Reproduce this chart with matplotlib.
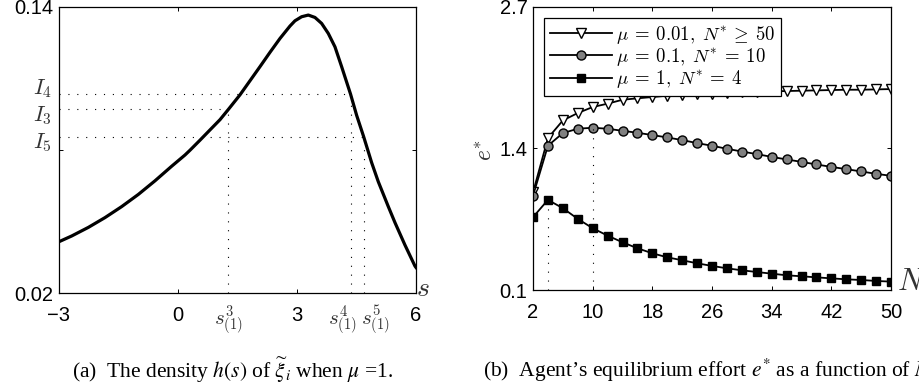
import matplotlib
matplotlib.use("Agg")
import matplotlib.pyplot as plt

plt.rcParams['font.family'] = ['Liberation Sans', 'DejaVu Sans']
plt.rcParams['mathtext.fontset'] = 'cm'

# ---------------- data: panel (a) ----------------
s_vals = [-3.0, -2.68, -2.26, -1.84, -1.42, -1.00, -0.58, -0.16, 0.176, 0.302,
          0.554, 0.806, 1.059, 1.27, 1.563, 1.815, 2.067, 2.319, 2.571, 2.823,
          2.949, 3.117, 3.285, 3.453, 3.621, 3.789, 3.957, 4.125, 4.35, 4.504,
          4.68, 4.882, 5.05, 5.302, 5.47, 5.722, 5.974, 6.0]
h_vals = [0.0416, 0.0440, 0.0476, 0.0517, 0.0563, 0.0614, 0.0671, 0.0732, 0.0779,
          0.0799, 0.0841, 0.0884, 0.0927, 0.0970, 0.1031, 0.1090, 0.1149, 0.1209,
          0.1267, 0.1319, 0.1341, 0.1358, 0.1365, 0.1355, 0.1330, 0.1288, 0.1232,
          0.1149, 0.1034, 0.0945, 0.0856, 0.0747, 0.0667, 0.0563, 0.0496, 0.0402,
          0.0314, 0.0308]
s_marks = [1.27, 4.35, 4.68]
s_mark_labels = [r'$s^3_{(1)}$', r'$s^4_{(1)}$', r'$s^5_{(1)}$']
I_levels = [0.0970, 0.1034, 0.0856]
I_labels = [r'$I_3$', r'$I_4$', r'$I_5$']
xticks_a = [-3, 0, 3, 6]
xticklabels_a = ['\u22123', '0', '3', '6']
yticks_a = [0.02, 0.08, 0.14]
yticklabels_a = ['0.02', '', '0.14']

# ---------------- data: panel (b) ----------------
N_vals = list(range(2, 51, 2))
e_mu001 = [0.995, 1.494, 1.656, 1.724, 1.779, 1.810, 1.846, 1.859, 1.871, 1.883,
           1.892, 1.895, 1.901, 1.908, 1.914, 1.917, 1.923, 1.926, 1.929, 1.932,
           1.935, 1.938, 1.938, 1.941, 1.944]
e_mu01 = [0.964, 1.424, 1.540, 1.580, 1.589, 1.580, 1.561, 1.543, 1.522, 1.500,
          1.476, 1.448, 1.424, 1.396, 1.371, 1.347, 1.322, 1.298, 1.276, 1.252,
          1.230, 1.209, 1.188, 1.166, 1.148]
e_mu1 = [0.768, 0.927, 0.851, 0.753, 0.667, 0.599, 0.538, 0.483, 0.437, 0.400,
         0.373, 0.345, 0.321, 0.299, 0.281, 0.265, 0.250, 0.235, 0.226, 0.216,
         0.207, 0.198, 0.192, 0.183, 0.177]
labels_b = [r'$\mu\:=\:0.01,\;N^{*}\:\geq\:50$', r'$\mu\:=\:0.1,\;N^{*}\:=\:10$',
            r'$\mu\:=\:1,\;N^{*}\:=\:4$']
N_opt = [4, 10]
xticks_b = [2, 10, 18, 26, 34, 42, 50]
yticks_b = [0.1, 1.4, 2.7]
yticklabels_b = ['0.1', '1.4', '2.7']

W, H = 919, 391
fig = plt.figure(figsize=(W / 100, H / 100), dpi=100)

dot_style = dict(color='black', lw=0.8, linestyle=(0, (1, 7)))

def style_axes(ax):
    for sp in ax.spines.values():
        sp.set_linewidth(0.9)
    ax.tick_params(direction='in', length=3, width=0.7, top=True, right=True,
                   labelsize=14.5)
    ax.tick_params(axis='x', pad=9)
    ax.tick_params(axis='y', pad=4)

# ---------- panel (a) ----------
axa = fig.add_axes([59 / W, (H - 293.3) / H, 357 / W, 286.6 / H])
axa.plot(s_vals, h_vals, color='black', lw=2.3, solid_joinstyle='round')
for sm, lev in zip(s_marks, I_levels):
    axa.plot([sm, sm], [0.02, lev], **dot_style)
    axa.plot([-3, sm], [lev, lev], **dot_style)
axa.set_xlim(-3, 6)
axa.set_ylim(0.02, 0.14)
axa.set_xticks(xticks_a)
axa.set_xticklabels(xticklabels_a)
axa.set_yticks(yticks_a)
axa.set_yticklabels(yticklabels_a)
style_axes(axa)
tr_a = axa.get_xaxis_transform()
lab_style = dict(fontsize=15, color='#333333', va='top')
axa.text(s_marks[0], -0.035, s_mark_labels[0], transform=tr_a, ha='center', **lab_style)
axa.text(s_marks[1] + 0.15, -0.035, s_mark_labels[1], transform=tr_a, ha='right', **lab_style)
axa.text(s_marks[2] - 0.06, -0.035, s_mark_labels[2], transform=tr_a, ha='left', **lab_style)
I_label_rows = {r'$I_4$': 88.5, r'$I_3$': 115.5, r'$I_5$': 142.5}
for lab in I_labels:
    fig.text(52 / W, 1 - I_label_rows[lab] / H, lab, ha='right', va='center',
             fontsize=16, color='#333333')
fig.text(423 / W, 1 - 289 / H, r'$s$', ha='center', va='center', fontsize=20,
         color='#333333')

# ---------- panel (b) ----------
axb = fig.add_axes([533 / W, (H - 290) / H, 358 / W, 283.3 / H])
mk = dict(color='black', lw=1.3, markeredgewidth=1.0, markeredgecolor='black')
axb.plot(N_vals, e_mu001, marker='v', markersize=7, markerfacecolor='white',
         label=labels_b[0], **mk)
axb.plot(N_vals, e_mu01, marker='o', markersize=6.5, markerfacecolor='#808080',
         label=labels_b[1], **mk)
axb.plot(N_vals, e_mu1, marker='s', markersize=5.8, markerfacecolor='black',
         label=labels_b[2], **mk)
axb.plot([N_opt[0], N_opt[0]], [0.1, e_mu1[N_vals.index(N_opt[0])]], **dot_style)
axb.plot([N_opt[1], N_opt[1]], [0.1, e_mu01[N_vals.index(N_opt[1])]], **dot_style)
axb.set_xlim(2, 50)
axb.set_ylim(0.1, 2.7)
axb.set_xticks(xticks_b)
axb.set_yticks(yticks_b)
axb.set_yticklabels(yticklabels_b)
style_axes(axb)
leg = axb.legend(loc='upper left', fontsize=13.5, frameon=True, fancybox=False,
                 edgecolor='black', framealpha=1, handlelength=3.3,
                 handletextpad=0.25, labelspacing=0.02, borderpad=0.3,
                 borderaxespad=0.6)
leg.get_frame().set_linewidth(0.9)
fig.text(486 / W, 1 - 150 / H, r'$e^{*}$', rotation=90, ha='center', va='center',
         fontsize=17, color='#333333')
fig.text(897 / W, 1 - 282 / H, r'$N$', ha='left', va='center', fontsize=22,
         color='#333333')

# ---------- captions ----------
fig.text(232.5 / W, 1 - 370 / H,
         r'(a)  The density $h(s)$ of $\widetilde{\xi}_i$ when $\mu$ =1.',
         ha='center', va='center', fontsize=15.5, family='Liberation Serif',
         math_fontfamily='stix')
fig.text(483 / W, 1 - 370 / H,
         r'(b)  Agent’s equilibrium effort $e^{*}$ as a function of $N$.',
         ha='left', va='center', fontsize=15.5, family='Liberation Serif',
         math_fontfamily='stix')

fig.savefig('out.png', dpi=100)
